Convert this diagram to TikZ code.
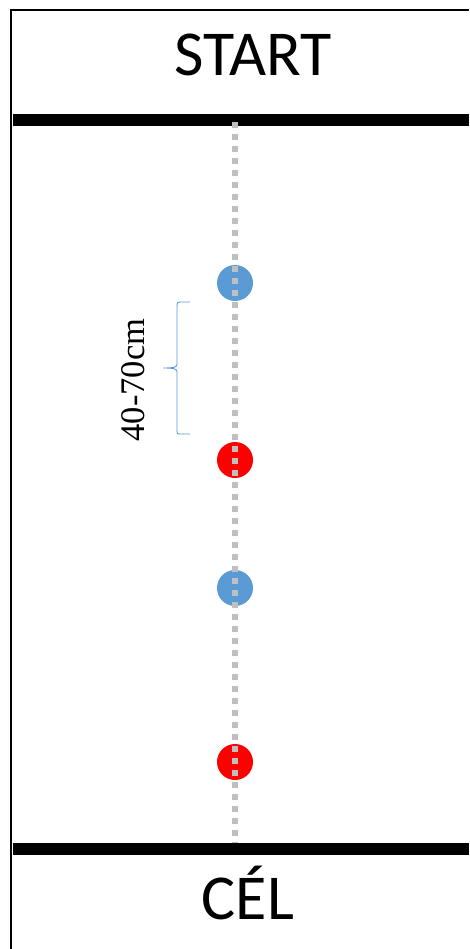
\documentclass[tikz,border=0pt]{standalone}
\usepackage{fontspec}
\setmainfont{Carlito}
\newfontfamily\serifnum{Liberation Serif}
\definecolor{dotblue}{HTML}{5B9BD5}
\definecolor{dotred}{HTML}{FF0000}
\definecolor{track}{HTML}{BFBFBF}
\begin{document}
\begin{tikzpicture}[x=1pt,y=-1pt,
  bar/.style={line width=12pt,black},
  frame/.style={line width=2pt,black},
  cone/.style={circle,minimum size=36pt,inner sep=0pt},
  bluecone/.style={cone,fill=dotblue},
  redcone/.style={cone,fill=dotred},
  trackline/.style={track,line width=6pt,dash pattern=on 6pt off 6pt},
  label/.style={font=\fontsize{64}{70}\selectfont,inner sep=0pt},
  bracestyle/.style={dotblue,line width=0.9pt}]
\useasboundingbox (0,0) rectangle (469,949);
% frame
\draw[frame] (11,949) -- (11,10) -- (469,10);
% bars
\draw[bar] (13,120) -- (469,120);
\draw[bar] (13,849) -- (469,849);
\coordinate (ts) at (235,122);
\coordinate (te) at (235,843);
% cones
\node[bluecone] (b1) at (235,283) {};
\node[redcone] (r1) at (235,460) {};
\node[bluecone] (b2) at (235,588) {};
\node[redcone] (r2) at (235,762) {};
% track
\draw[trackline] (ts) -- (te);
% labels
\node[label] (start) at (253,55) {START};
\node[label] (cel) at (248,893) {CÉL};
% brace
\draw[bracestyle] (190,302) -- (180,302) .. controls (177,302) and (177,303) .. (177,306)
  -- (177,364) .. controls (177,367) and (175,368) .. (163,368)
  .. controls (175,368) and (177,369) .. (177,372)
  -- (177,431) .. controls (177,434) and (177,434) .. (180,434) -- (190,434);
\node[font=\serifnum\fontsize{34.5}{38}\selectfont,rotate=90,inner sep=0pt] (dist) at (133,380) {40-70cm};
\end{tikzpicture}
\end{document}
